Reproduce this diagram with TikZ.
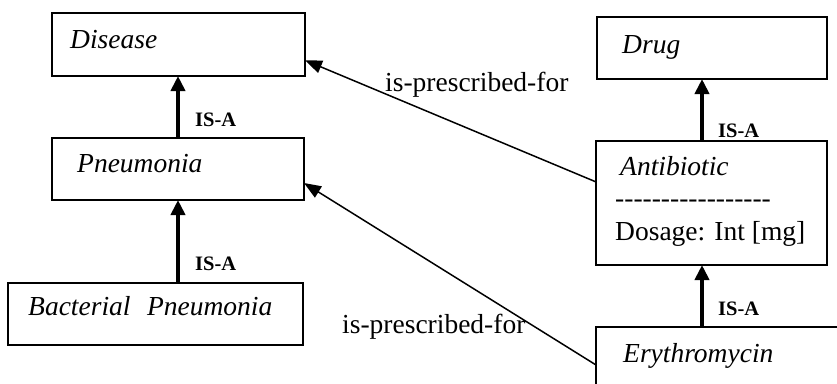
\documentclass[tikz,border=0pt]{standalone}
\usepackage{fontspec}
\setmainfont{Liberation Serif}
\usetikzlibrary{arrows.meta,calc}
\newcommand\hyph{\mbox{-}}
\begin{document}
\begin{tikzpicture}[x=1pt,y=-1pt,
  box/.style={draw,line width=1.5pt,inner sep=0pt,outer sep=0pt},
  txt/.style={anchor=base west,inner sep=0pt,font=\fontsize{27.5}{33}\selectfont},
  ital/.style={txt,font=\fontsize{27.5}{33}\selectfont\itshape},
  isalab/.style={anchor=base west,inner sep=0pt,font=\fontsize{20.5}{24}\selectfont\bfseries},
  isa/.style={line width=4pt,-{Triangle[length=15pt,width=14pt]}},
  rel/.style={line width=1.5pt,-{Triangle[length=17pt,width=13pt]}}]
\useasboundingbox (0,0) rectangle (837,383);
\clip (0,0) rectangle (837,383);
\fill[white] (0,0) rectangle (837,383);
% boxes
\node[box,minimum width=253pt,minimum height=63pt] (disease) at (178.5,44.5) {};
\node[box,minimum width=252pt,minimum height=62pt] (pneumonia) at (178,169) {};
\node[box,minimum width=295pt,minimum height=62pt] (bacterial) at (155.5,314) {};
\node[box,minimum width=230pt,minimum height=62pt] (drug) at (712,48) {};
\node[box,minimum width=231pt,minimum height=124pt] (antibiotic) at (711.5,203) {};
\node[box,minimum width=264pt,minimum height=73pt] (erythro) at (728,363.5) {};
% texts
\node[ital] (tdisease) at (70,48) {Disease};
\node[ital] (tpneumonia) at (77,172) {Pneumonia};
\node[ital] (tbacterial) at (28,315) {Bacterial\hspace{0.6em}Pneumonia};
\node[ital] (tdrug) at (622,53) {Drug};
\node[ital] (tantibiotic) at (620,175) {Antibiotic};
\node[txt] (tdash) at (615,207) {\hyph\hyph\hyph\hyph\hyph\hyph\hyph\hyph\hyph\hyph\hyph\hyph\hyph\hyph\hyph\hyph\hyph};
\node[txt] (tdosage) at (615,240) {Dosage: Int [mg]};
\node[ital] (terythro) at (623,362) {Erythromycin};
% IS-A arrows
\coordinate (ax) at (702,0);
\draw[isa] (pneumonia.north) -- (pneumonia.north |- disease.south);
\draw[isa] (bacterial.north -| pneumonia.south) -- (pneumonia.south);
\draw[isa] (antibiotic.north -| ax) -- (drug.south -| ax);
\draw[isa] (erythro.north -| ax) -- (antibiotic.south -| ax);
\node[isalab] (l1) at (195,126) {IS-A};
\node[isalab] (l2) at (195,270) {IS-A};
\node[isalab] (l3) at (718,137) {IS-A};
\node[isalab] (l4) at (718,315) {IS-A};
% is-prescribed-for
\draw[rel] ($(antibiotic.north west)!0.33!(antibiotic.south west)$) -- ($(disease.north east)!0.75!(disease.south east)$);
\draw[rel] ($(erythro.north west)!0.52!(erythro.south west)$) -- ($(pneumonia.north east)!0.726!(pneumonia.south east)$);
\node[txt] (r1) at (385,91) {is-prescribed-for};
\node[txt] (r2) at (342,333) {is-prescribed-for};
\end{tikzpicture}
\end{document}
